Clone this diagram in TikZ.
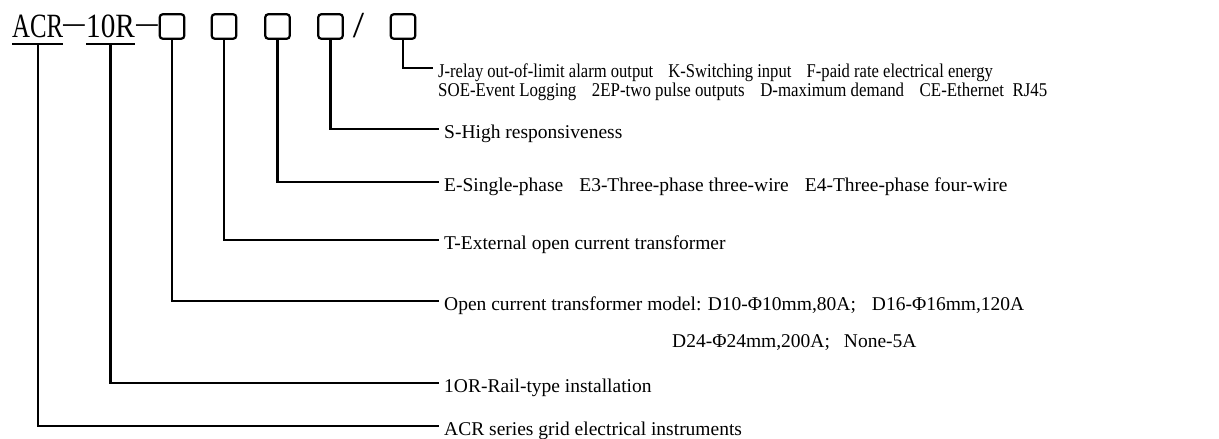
\documentclass[tikz,border=0pt]{standalone}
\usepackage{fontspec}
\setmainfont{Liberation Serif}
\usepackage{graphicx}
\begin{document}
\begin{tikzpicture}[x=1pt,y=-1pt,
  conn/.style={draw=black, line width=2.2pt},
  uline/.style={draw=black, line width=2pt},
  codebox/.style={draw=black, line width=2.2pt, rounded corners=3pt, minimum width=24.5pt, minimum height=24.5pt, inner sep=0pt},
  titletext/.style={inner sep=0pt, font=\fontsize{34}{34}\selectfont, text=black},
  lab/.style={inner xsep=5pt, inner ysep=0pt, anchor=west, text height=20pt, text depth=2pt, font=\fontsize{19.5}{19.5}\selectfont, text=black},
  lab2/.style={inner xsep=5pt, inner ysep=0pt, anchor=base west, font=\fontsize{19.5}{19.5}\selectfont, text=black}
]
\useasboundingbox[fill=white] (0,0) rectangle (1219,439);

% ---- model code ----
\node[titletext, anchor=base west] (acr) at (12,37) {\scalebox{0.73}[1]{ACR}};
\node[titletext, anchor=base] (d1) at (74,33) {\scalebox{1.25}[1]{\textendash}};
\node[titletext, anchor=base west] (ten) at (86,37) {\scalebox{0.86}[1]{10R}};
\node[titletext, anchor=base] (d2) at (147,33) {\scalebox{1.25}[1]{\textendash}};
\node[codebox] (b1) at (172,26.5) {};
\node[codebox] (b2) at (224,26.5) {};
\node[codebox] (b3) at (277.5,26.5) {};
\node[codebox] (b4) at (330.5,26.5) {};
\node[titletext, anchor=base] (sl) at (358.5,37.5) {\scalebox{1.2}[1.08]{/}};
\node[codebox] (b5) at (403,26.5) {};

\draw[uline] ([yshift=-6pt]acr.south west) -- ([yshift=-6pt]acr.south east);
\draw[uline] ([yshift=-6pt]ten.south west) -- ([yshift=-6pt]ten.south east);

% ---- labels ----
\node[lab] (tJ) at (433,68) {\scalebox{0.85}[1]{J-relay out-of-limit alarm output\hspace{18pt}K-Switching input\hspace{18pt}F-paid rate electrical energy}};
\node[lab2] (tSOE) at ([yshift=-19pt]tJ.base west) {\scalebox{0.865}[1]{SOE-Event Logging\hspace{18pt}2EP-two pulse outputs\hspace{18pt}D-maximum demand\hspace{18pt}CE-Ethernet\hspace{10pt}RJ45}};
\node[lab] (tS) at (439,129) {S-High responsiveness};
\node[lab] (tE) at (439,182) {E-Single-phase\hspace{16pt}E3-Three-phase three-wire\hspace{16pt}E4-Three-phase four-wire};
\node[lab] (tT) at (439,240) {T-External open current transformer};
\node[lab] (tOpen) at (439,301) {Open current transformer model: D10-Φ10mm,80A;\hspace{16pt}D16-Φ16mm,120A};
\node[lab2] (tD24) at (667,347) {D24-Φ24mm,200A;\hspace{14pt}None-5A};
\node[lab] (tRail) at (439,383) {1OR-Rail-type installation};
\node[lab] (tACR) at (439,426) {ACR series grid electrical instruments};

% ---- connectors ----
\draw[conn] (b5.south) |- (tJ.west);
\draw[conn] (b4.south) |- (tS.west);
\draw[conn] (b3.south) |- (tE.west);
\draw[conn] (b2.south) |- (tT.west);
\draw[conn] (b1.south) |- (tOpen.west);
\draw[conn] ([yshift=-6pt]ten.south) |- (tRail.west);
\draw[conn] ([yshift=-6pt]acr.south) |- (tACR.west);
\end{tikzpicture}
\end{document}
